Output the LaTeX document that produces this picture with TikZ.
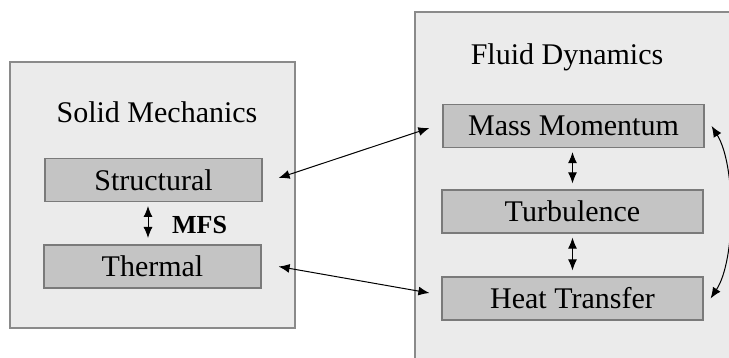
\documentclass[tikz,border=0pt]{standalone}
\usepackage{fontspec}
\setmainfont{Liberation Serif}
\usetikzlibrary{arrows.meta}
\definecolor{panelfill}{HTML}{EBEBEB}
\definecolor{panelline}{HTML}{8A8A8A}
\definecolor{boxfill}{HTML}{C4C4C4}
\definecolor{boxline}{HTML}{7A7A7A}
\tikzset{
  panel/.style={draw=panelline, fill=panelfill, line width=1.2pt},
  modbox/.style={draw=boxline, fill=boxfill, line width=1.2pt, minimum height=43pt, inner sep=0pt,
    font=\fontsize{30}{32}\selectfont},
  title/.style={font=\fontsize{30}{32}\selectfont, inner sep=0pt},
  link/.style={{Latex[length=11pt,width=9pt]}-{Latex[length=11pt,width=9pt]}, line width=1pt, black},
}
\begin{document}
\begin{tikzpicture}[x=1pt,y=-1pt]
\useasboundingbox (0,0) rectangle (729,358);
\begin{scope}
\clip (0,0) rectangle (729,358);
\draw[panel] (10,62) rectangle (295,328);
\draw[panel] (415,12) rectangle (745,375);
\end{scope}
\node[title] (solid) at (157,112) {Solid Mechanics};
\node[title] (fluid) at (567,57) {Fluid Dynamics};
\node[modbox, minimum width=217pt] (struct) at (153.5,180) {Structural};
\node[modbox, minimum width=217pt] (therm) at (152.5,266.5) {Thermal};
\node[modbox, minimum width=261pt] (mass) at (573.5,126) {Mass Momentum};
\node[modbox, minimum width=261pt] (turb) at (572.5,211.5) {Turbulence};
\node[modbox, minimum width=261pt] (heat) at (572.5,298.5) {Heat Transfer};
\coordinate (sa) at (148,206);
\coordinate (sb) at (148,238);
\draw[link] (sa) -- (sb);
\node[font=\fontsize{26}{28}\selectfont\bfseries, inner sep=0pt, anchor=west] (mfs) at (172,225) {MFS};
\draw[link] ([yshift=-4pt]mass.south -| turb.north) -- ([yshift=6pt]turb.north);
\draw[link] ([yshift=-4pt]turb.south) -- ([yshift=6pt]heat.north);
\draw[link] ([xshift=16pt,yshift=2pt]struct.east) -- ([xshift=-13pt,yshift=-2pt]mass.west);
\draw[link] ([xshift=17pt]therm.east) -- ([xshift=-12pt,yshift=5.5pt]heat.west);
\draw[link] ([xshift=7pt]mass.east) .. controls (736,165) and (736,260) .. ([xshift=7pt]heat.east);
\end{tikzpicture}
\end{document}
